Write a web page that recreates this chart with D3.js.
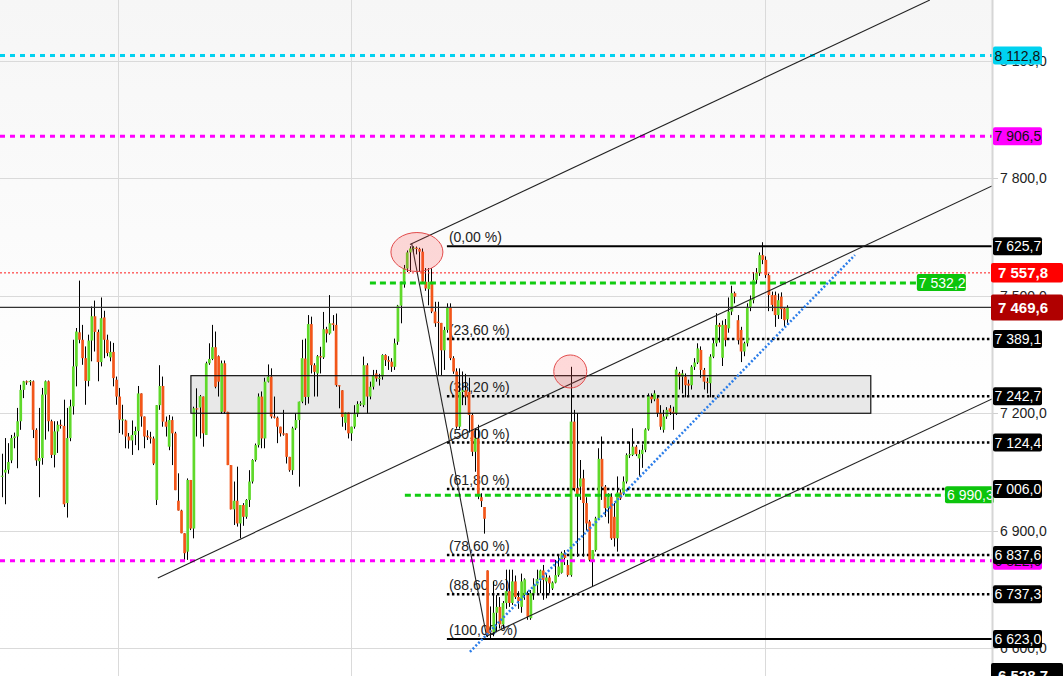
<!DOCTYPE html>
<html><head><meta charset="utf-8">
<script src="https://cdn.jsdelivr.net/npm/d3@7"></script>
<style>html,body{margin:0;padding:0;background:#fff;overflow:hidden}svg{display:block}</style>
</head><body><svg id="c" width="1063" height="676"></svg>
<script>
// ---------- DATA ----------
const opens = [7037,7048,7055,7079,7136,7140,7179,7259,7281,7280,
7281,7157,7077,7085,7247,7281,7179,7093,7153,7170,
7167,6970,7136,7217,7319,7406,7387,7340,7282,7385,
7447,7407,7330,7444,7387,7342,7356,7285,7242,7183,
7181,7140,7130,7144,7154,7250,7191,7142,7138,7135,
6978,7220,7269,7178,7114,7182,7148,6976,6951,6893,
6846,7029,6905,7212,7214,7242,7144,7327,7338,7368,
7345,7203,7327,7203,7067,6954,6976,6918,6965,6935,
6978,7025,7080,7118,7242,7135,7280,7293,7191,7188,
7165,7148,7148,7088,7054,7161,7182,7229,7339,7241,
7427,7322,7301,7345,7342,7414,7403,7429,7425,7271,
7258,7175,7201,7148,7165,7197,7223,7220,7322,7242,
7267,7301,7288,7293,7348,7335,7331,7318,7382,7474,
7535,7569,7610,7620,7622,7619,7612,7535,7516,7535,
7459,7433,7430,7360,7412,7469,7340,7306,7165,7254,
7258,7254,7195,7101,7135,6985,6960,6798,6645,6640,
6690,6705,6660,6715,6745,6715,6770,6730,6705,6735,
6735,6676,6740,6760,6774,6798,6770,6780,6752,6767,
6786,6792,6842,6812,6786,7178,7008,7012,7033,6970,
6923,6825,6850,6931,7083,7012,6957,6986,6935,6880,
6997,6995,7025,7093,7093,7114,7084,7095,7106,7158,
7242,7235,7237,7200,7157,7191,7212,7203,7199,7301,
7293,7293,7275,7271,7318,7329,7361,7310,7280,7276,
7344,7378,7425,7341,7425,7416,7459,7506,7437,7412,
7357,7378,7471,7488,7540,7557,7603,7591,7552,7501,
7501,7450,7497,7467,7439];
const highs = [7096,7136,7123,7144,7150,7213,7272,7282,7283,7284,
7283,7161,7213,7264,7283,7283,7183,7179,7179,7183,
7234,7213,7234,7387,7417,7538,7425,7370,7400,7472,
7487,7413,7495,7461,7400,7383,7379,7293,7264,7221,
7183,7149,7181,7165,7269,7250,7191,7156,7152,7140,
7220,7322,7293,7191,7195,7191,7152,7046,6953,6893,
7033,7029,7216,7263,7246,7242,7331,7378,7425,7408,
7347,7334,7334,7203,7067,7025,7063,6965,6970,6980,
7054,7082,7122,7250,7255,7290,7324,7314,7242,7191,
7165,7208,7148,7088,7165,7199,7229,7387,7390,7450,
7446,7327,7348,7369,7458,7420,7501,7450,7454,7271,
7258,7201,7201,7165,7220,7230,7230,7344,7327,7280,
7310,7310,7300,7350,7350,7345,7340,7390,7476,7535,
7578,7615,7625.7,7625.7,7625,7622,7620,7570,7570,7570,
7484,7484,7430,7420,7480,7480,7345,7314,7314,7306,
7300,7290,7200,7160,7170,6995,6960,6798,6706,6770,
6735,6730,6720,6800,6800,6800,6785,6745,6790,6778,
6745,6748,6778,6800,6800,6812,6790,6785,6770,6825,
6838,6846,6850,6825,7318,7208,7200,7080,7055,6985,
6927,6850,6935,7110,7140,7016,6995,6995,6970,7038,
7005,7038,7097,7127,7161,7118,7106,7120,7161,7250,
7250,7258,7246,7220,7208,7215,7220,7216,7318,7305,
7310,7301,7285,7322,7340,7378,7370,7315,7290,7350,
7390,7455,7430,7436,7440,7495,7525,7510,7450,7420,
7382,7480,7500,7560,7570,7610,7636,7600,7556,7510,
7510,7505,7508,7470,7475];
const lows = [6985,6967,7045,7072,7110,7059,7157,7238,7272,7270,
7136,7065,6985,7068,7132,7153,7085,7061,7098,7160,
6960,6933,7128,7196,7268,7378,7323,7221,7268,7332,
7357,7281,7319,7340,7345,7332,7268,7221,7149,7145,
7110,7109,7093,7118,7105,7165,7110,7131,7122,7067,
6965,7208,7165,7140,7105,7067,7003,6951,6893,6820,
6825,6901,6880,7140,7135,7114,7144,7323,7335,7263,
7242,7198,7198,7067,6954,6914,6910,6880,6912,6930,
6960,7020,7076,7112,7110,7110,7278,7186,7186,7123,
7140,7142,7071,7050,7042,7157,7012,7225,7220,7224,
7301,7242,7242,7301,7338,7380,7400,7410,7267,7212,
7165,7156,7135,7129,7160,7190,7218,7215,7199,7235,
7260,7280,7270,7285,7320,7310,7305,7310,7374,7429,
7520,7560,7560,7608,7605,7560,7530,7512,7475,7455,
7420,7297,7297,7310,7405,7335,7300,7160,7160,7220,
7220,7150,7090,7050,6980,6960,6892,6628,6623,6630,
6640,6650,6650,6700,6705,6710,6725,6700,6690,6723,
6672,6672,6723,6740,6740,6723,6727,6740,6748,6765,
6782,6790,6812,6782,6782,7000,6833,6978,6833,6900,
6821,6757,6846,6927,6978,6935,6918,6876,6859,6846,
6978,6990,7020,7085,7090,7090,7038,7060,7100,7155,
7225,7230,7190,7157,7150,7185,7195,7157,7195,7260,
7250,7240,7246,7260,7310,7325,7290,7260,7250,7240,
7340,7370,7380,7320,7370,7405,7450,7480,7375,7330,
7345,7370,7460,7480,7530,7550,7580,7545,7460,7460,
7420,7440,7440,7420,7425];
const closes = [7040,7055,7075,7136,7140,7179,7259,7281,7280,7282,
7157,7079,7085,7247,7281,7179,7093,7153,7170,7167,
6967,7136,7217,7319,7408,7387,7340,7282,7385,7447,
7407,7330,7442,7387,7353,7356,7289,7242,7183,7184,
7140,7130,7144,7154,7250,7191,7140,7138,7135,7071,
7220,7269,7178,7165,7182,7148,7003,6951,6893,6842,
7029,6905,7212,7209,7243,7148,7327,7338,7368,7267,
7280,7327,7203,7067,6954,6976,6918,6965,6935,6978,
7025,7080,7118,7242,7135,7280,7293,7191,7188,7165,
7148,7146,7088,7054,7161,7182,7229,7340,7241,7427,
7322,7305,7345,7343,7414,7403,7429,7425,7271,7268,
7190,7201,7148,7165,7197,7223,7225,7322,7242,7267,
7297,7288,7290,7348,7335,7331,7318,7378,7474,7535,
7569,7610,7620,7622,7619,7612,7535,7518,7535,7459,
7429,7430,7360,7412,7469,7340,7306,7165,7254,7258,
7242,7195,7101,7135,6991,6975,6930,6634,6640,6690,
6705,6660,6715,6745,6715,6770,6730,6720,6770,6775,
6680,6740,6760,6776,6798,6774,6780,6765,6767,6786,
6808,6842,6830,6786,7178,7008,6990,7033,6970,6918,
6825,6850,6931,7083,7012,6957,6986,6880,6880,6997,
6982,7025,7093,7095,7114,7095,7095,7106,7158,7242,
7235,7250,7200,7165,7191,7208,7203,7200,7311,7293,
7301,7271,7270,7318,7329,7365,7310,7280,7278,7344,
7378,7425,7420,7425,7386,7459,7506,7497,7386,7357,
7378,7471,7488,7540,7558,7603,7591,7552,7501,7476,
7450,7488,7465,7437,7469.6];

// price axis ticks
const axisTicks = [6600, 6900, 7200, 7500, 7800, 8100];
// vertical grid lines (bar index)
const vGridIdx = [37.6, 113.0, 246.9];

// Fibonacci retracement
const fibLevels = [7625.7, 7389.1, 7242.7, 7124.4, 7006.0, 6837.6, 6737.3, 6623.0];
const fibLabels = ["(0,00 %)","(23,60 %)","(38,20 %)","(50,00 %)","(61,80 %)","(78,60 %)","(88,60 %)","(100,00 %)"];
const fibStartIdx = 144;

// horizontal levels
const cyanLevels = [8112.8];
const magentaLevels = [7906.5, 6822.6];
const lastPrice = 7557.8;       // red dotted
const closeLevel = 7469.6;      // black line / dark red tag
const bottomTag = 6528.7;
const greenLevels = [7532.2, 6990.3];
const greenFromIdx = [119.1, 130.4];
const greenToIdx = [296.0, 305.1];

// zone rectangle
const zoneIdx = [61.2, 281.1];
const zonePrice = [7295.3, 7199.3];

// trend lines: [idx0, price0, idx1, price1]
const channelUpper = [132.05, 7630, 300.2, 8254.4];
const channelMid   = [50.5, 6779, 320.3, 7779.6];
const channelLower = [156.95, 6630.7, 320.3, 7235.8];
const dropLine     = [132.6, 7633, 156.85, 6629];
const blueTrend    = [151.45, 6590, 275.97, 7603.4];

// highlight circles: [idx, price]
const ellipseAt = [134.3, 7611];
const circleAt = [183.9, 7306];

// ---------- CHART ----------
const W = 1063, H = 676, plotR = 992;
const N = closes.length;
const svg = d3.select("#c");
const FONT = "'Liberation Sans', Arial, sans-serif";
const y = d3.scaleLinear().domain([6600, 7800]).range([648, 178]);
const x = d3.scaleLinear().domain([0, N - 1]).range([1.7, 787]);
const fmt = d3.formatLocale({decimal: ",", thousands: " ", grouping: [3], currency: ["", ""]}).format(",.1f");

const defs = svg.append("defs");
const grad = defs.append("linearGradient").attr("id", "bg").attr("x1", 0).attr("y1", 0).attr("x2", 0).attr("y2", 1);
grad.append("stop").attr("offset", "0%").attr("stop-color", "#f6f6f6");
grad.append("stop").attr("offset", "55%").attr("stop-color", "#fefefe");
grad.append("stop").attr("offset", "100%").attr("stop-color", "#ffffff");
defs.append("clipPath").attr("id", "plot").append("rect").attr("x", 0).attr("y", 0).attr("width", plotR).attr("height", H);

svg.append("rect").attr("width", W).attr("height", H).attr("fill", "#fff");
svg.append("rect").attr("width", plotR).attr("height", H).attr("fill", "url(#bg)");

const g = svg.append("g").attr("clip-path", "url(#plot)");

// grid
g.selectAll(".hg").data(axisTicks).join("line")
  .attr("x1", 0).attr("x2", plotR).attr("y1", d => Math.round(y(d)) + 0.5).attr("y2", d => Math.round(y(d)) + 0.5)
  .attr("stroke", "#dadada").attr("stroke-width", 1);
g.selectAll(".vg").data(vGridIdx).join("line")
  .attr("x1", d => Math.round(x(d)) + 0.5).attr("x2", d => Math.round(x(d)) + 0.5).attr("y1", 0).attr("y2", H)
  .attr("stroke", "#dadada").attr("stroke-width", 1);

// zone fill
g.append("rect")
  .attr("x", x(zoneIdx[0])).attr("width", x(zoneIdx[1]) - x(zoneIdx[0]))
  .attr("y", y(zonePrice[0])).attr("height", y(zonePrice[1]) - y(zonePrice[0]))
  .attr("fill", "#e8e8e8");

// fibonacci lines and labels (under candles)
fibLevels.forEach((p, i) => {
  const solid = (i === 0 || i === fibLevels.length - 1);
  g.append("line")
    .attr("x1", x(fibStartIdx)).attr("x2", plotR).attr("y1", y(p)).attr("y2", y(p))
    .attr("stroke", "#000").attr("stroke-width", solid ? 2 : 2.5)
    .attr("stroke-dasharray", solid ? null : "2.5,2.5");
  g.append("text").attr("x", x(fibStartIdx) + 2).attr("y", y(p) - 4)
    .attr("font-family", FONT).attr("font-size", 14).attr("fill", "#222").text(fibLabels[i]);
});

// candles
const idx = d3.range(N);
const bw = 2.7;
g.append("g").selectAll("line").data(idx).join("line")
  .attr("x1", i => Math.round(x(i)) + 0.5).attr("x2", i => Math.round(x(i)) + 0.5)
  .attr("y1", i => y(Math.max(highs[i], opens[i], closes[i])))
  .attr("y2", i => y(Math.min(lows[i], opens[i], closes[i])))
  .attr("stroke", "#000").attr("stroke-width", 1);
g.append("g").selectAll("rect").data(idx).join("rect")
  .attr("x", i => x(i) - bw / 2 + 0.5).attr("width", bw)
  .attr("y", i => y(Math.max(opens[i], closes[i])))
  .attr("height", i => Math.max(1.2, Math.abs(y(opens[i]) - y(closes[i]))))
  .attr("fill", i => closes[i] >= opens[i] ? "#5fd92a" : "#f2561a");

// zone border
g.append("rect")
  .attr("x", x(zoneIdx[0])).attr("width", x(zoneIdx[1]) - x(zoneIdx[0]))
  .attr("y", y(zonePrice[0])).attr("height", y(zonePrice[1]) - y(zonePrice[0]))
  .attr("fill", "none").attr("stroke", "#111").attr("stroke-width", 1.2);

// horizontal levels
function hline(p, color, width, dash, x1, x2) {
  g.append("line").attr("x1", x1 == null ? 0 : x1).attr("x2", x2 == null ? plotR : x2)
    .attr("y1", y(p)).attr("y2", y(p))
    .attr("stroke", color).attr("stroke-width", width).attr("stroke-dasharray", dash);
}
hline(closeLevel, "#333", 1.2, null);
hline(lastPrice, "#ff1a1a", 1, "2,2");
cyanLevels.forEach(p => hline(p, "#00d2f0", 3, "5,5"));
magentaLevels.forEach(p => hline(p, "#ff00ff", 3, "5,5"));
greenLevels.forEach((p, i) => hline(p, "#11cc11", 3, "6,4", x(greenFromIdx[i]), x(greenToIdx[i])));

// trend lines
function tline(a, color, width, dash) {
  g.append("line").attr("x1", x(a[0])).attr("y1", y(a[1])).attr("x2", x(a[2])).attr("y2", y(a[3]))
    .attr("stroke", color).attr("stroke-width", width).attr("stroke-dasharray", dash);
}
tline(channelUpper, "#222", 1.1, null);
tline(channelMid, "#222", 1.1, null);
tline(channelLower, "#222", 1.1, null);
tline(dropLine, "#222", 1.1, null);
tline(blueTrend, "#2b7de9", 2.5, "2,2");

// circles
g.append("ellipse").attr("cx", x(ellipseAt[0])).attr("cy", y(ellipseAt[1])).attr("rx", 26).attr("ry", 19.5)
  .attr("fill", "rgba(255,70,70,0.2)").attr("stroke", "#e24b4b").attr("stroke-width", 1);
g.append("circle").attr("cx", x(circleAt[0])).attr("cy", y(circleAt[1])).attr("r", 16.5)
  .attr("fill", "rgba(255,70,70,0.2)").attr("stroke", "#e24b4b").attr("stroke-width", 1);

// green in-plot tags
greenLevels.forEach((p, i) => {
  const gx = x(greenToIdx[i]);
  svg.append("rect").attr("x", gx).attr("y", y(p) - 9).attr("width", 49).attr("height", 17).attr("rx", 2)
    .attr("fill", "#0cc40c");
  svg.append("text").attr("x", gx + 2).attr("y", y(p)).attr("dy", "0.36em")
    .attr("font-family", FONT).attr("font-size", 14).attr("fill", "#fff").text(fmt(p));
});

// right axis
svg.append("line").attr("x1", plotR + 0.5).attr("x2", plotR + 0.5).attr("y1", 0).attr("y2", H)
  .attr("stroke", "#d6d6d6").attr("stroke-width", 2);
axisTicks.forEach(t => {
  svg.append("line").attr("x1", plotR + 1).attr("x2", plotR + 6).attr("y1", Math.round(y(t)) + 0.5).attr("y2", Math.round(y(t)) + 0.5)
    .attr("stroke", "#cfcfcf");
  svg.append("text").attr("x", 1000).attr("y", y(t)).attr("dy", "0.36em")
    .attr("font-family", FONT).attr("font-size", 14).attr("fill", "#222").text(fmt(t));
});

function tag(p, fill, color, opt) {
  const o = Object.assign({x: 993, w: 49, h: 18, bold: false, size: 14, tx: 994.5}, opt || {});
  svg.append("rect").attr("x", o.x).attr("y", y(p) - o.h / 2).attr("width", o.w).attr("height", o.h).attr("rx", 2)
    .attr("fill", fill);
  svg.append("text").attr("x", o.tx).attr("y", y(p)).attr("dy", "0.36em")
    .attr("font-family", FONT).attr("font-size", o.size).attr("font-weight", o.bold ? "bold" : "normal")
    .attr("fill", color).text(fmt(p));
}
cyanLevels.forEach(p => tag(p, "#00d2f0", "#111"));
magentaLevels.forEach(p => tag(p, "#ff00ff", "#111"));
fibLevels.forEach(p => tag(p, "#000", "#fff"));
tag(lastPrice, "#ff0000", "#fff", {x: 991, w: 72, h: 19.5, bold: true, size: 15, tx: 998});
tag(closeLevel, "#b00000", "#fff", {x: 991, w: 72, h: 26, bold: true, size: 15, tx: 998});
tag(bottomTag, "#000", "#fff", {x: 991, w: 72, h: 26, bold: true, size: 15, tx: 998});
</script></body></html>
